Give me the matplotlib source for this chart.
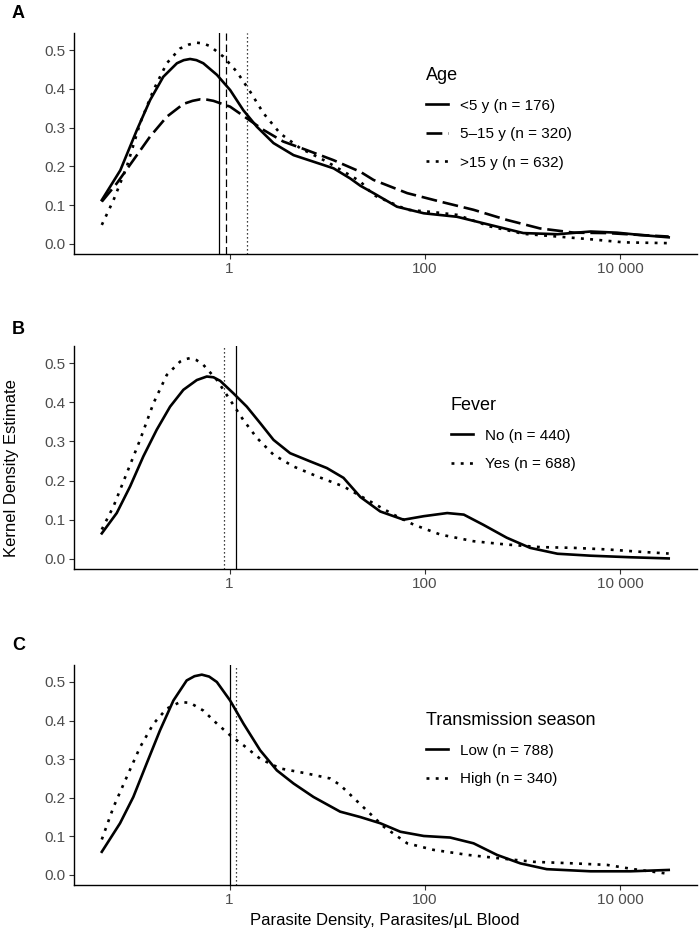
import numpy as np
import matplotlib
matplotlib.use("Agg")
import matplotlib.pyplot as plt

plt.rcParams['font.family'] = ['Liberation Sans', 'DejaVu Sans']

# log10(parasite density) and kernel density estimates
age_lt5_x = [-1.31, -1.12, -0.95, -0.815, -0.68, -0.54, -0.47, -0.405, -0.34, -0.27, -0.13, 0.005, 0.14, 0.28,
             0.45, 0.655, 0.86, 1.065, 1.235, 1.34, 1.475, 1.715, 1.99, 2.33, 2.67, 3.01, 3.36, 3.70, 3.97,
             4.21, 4.50]
age_lt5_y = [0.113, 0.19, 0.294, 0.371, 0.431, 0.466, 0.474, 0.477, 0.474, 0.466, 0.436, 0.397, 0.345, 0.302,
             0.26, 0.229, 0.212, 0.195, 0.169, 0.150, 0.131, 0.096, 0.079, 0.070, 0.049, 0.028, 0.025, 0.032,
             0.029, 0.023, 0.017]

age_5to15_x = [-1.31, -1.157, -0.987, -0.815, -0.644, -0.474, -0.38, -0.30, -0.23, -0.166, 0.005, 0.176, 0.347,
               0.55, 0.79, 1.065, 1.34, 1.475, 1.82, 2.16, 2.50, 2.84, 3.18, 3.53, 3.87, 4.21, 4.50]
age_5to15_y = [0.109, 0.156, 0.216, 0.277, 0.328, 0.361, 0.369, 0.373, 0.372, 0.369, 0.354, 0.324, 0.294,
               0.264, 0.242, 0.216, 0.186, 0.165, 0.131, 0.109, 0.088, 0.062, 0.040, 0.029, 0.028, 0.023, 0.019]

age_gt15_x = [-1.31, -1.19, -1.054, -0.918, -0.78, -0.644, -0.508, -0.42, -0.336, -0.27, -0.2, -0.064, 0.074,
              0.21, 0.347, 0.518, 0.723, 0.997, 1.2, 1.34, 1.475, 1.82, 2.09, 2.33, 2.67, 3.01, 3.36, 3.70,
              4.04, 4.50]
age_gt15_y = [0.049, 0.113, 0.199, 0.311, 0.397, 0.466, 0.504, 0.514, 0.519, 0.517, 0.510, 0.483, 0.444,
              0.393, 0.337, 0.285, 0.247, 0.212, 0.182, 0.161, 0.126, 0.088, 0.082, 0.075, 0.045, 0.026, 0.019,
              0.012, 0.004, 0.002]

fever_no_x = [-1.31, -1.157, -1.02, -0.884, -0.747, -0.61, -0.474, -0.336, -0.234, -0.165, -0.097, 0.039, 0.176,
              0.313, 0.45, 0.62, 0.826, 0.997, 1.167, 1.34, 1.544, 1.783, 1.99, 2.23, 2.40, 2.60, 2.84, 3.08,
              3.36, 3.70, 4.11, 4.50]
fever_no_y = [0.065, 0.117, 0.185, 0.262, 0.330, 0.389, 0.432, 0.457, 0.466, 0.464, 0.455, 0.423, 0.389,
              0.347, 0.304, 0.270, 0.249, 0.232, 0.207, 0.158, 0.121, 0.100, 0.109, 0.117, 0.113, 0.087, 0.054,
              0.028, 0.013, 0.008, 0.004, 0.001]

fever_yes_x = [-1.31, -1.19, -1.054, -0.918, -0.78, -0.644, -0.508, -0.46, -0.405, -0.34, -0.27, -0.13, 0.005,
               0.14, 0.28, 0.45, 0.655, 0.894, 1.167, 1.41, 1.68, 1.885, 2.16, 2.50, 2.84, 3.18, 3.53, 3.87,
               4.21, 4.50]
fever_yes_y = [0.075, 0.134, 0.219, 0.304, 0.398, 0.470, 0.504, 0.510, 0.513, 0.508, 0.496, 0.457, 0.406,
               0.355, 0.309, 0.266, 0.236, 0.211, 0.185, 0.151, 0.113, 0.0875, 0.062, 0.045, 0.0365, 0.030,
               0.028, 0.024, 0.018, 0.0135]

season_low_x = [-1.31, -1.123, -0.987, -0.85, -0.713, -0.576, -0.44, -0.36, -0.285, -0.21, -0.131, 0.005,
                0.142, 0.313, 0.484, 0.655, 0.86, 1.133, 1.34, 1.544, 1.75, 1.99, 2.26, 2.50, 2.74, 2.98, 3.25,
                3.70, 4.11, 4.50]
season_low_y = [0.060, 0.134, 0.202, 0.289, 0.375, 0.452, 0.504, 0.515, 0.519, 0.514, 0.50, 0.452, 0.392,
                0.323, 0.271, 0.237, 0.202, 0.164, 0.150, 0.134, 0.112, 0.101, 0.097, 0.082, 0.052, 0.030,
                0.015, 0.0095, 0.0095, 0.013]

season_high_x = [-1.31, -1.19, -1.054, -0.918, -0.78, -0.644, -0.508, -0.405, -0.27, -0.13, 0.005, 0.142,
                 0.313, 0.518, 0.79, 1.03, 1.133, 1.34, 1.58, 1.82, 2.09, 2.44, 2.77, 3.12, 3.53, 3.87, 4.14,
                 4.50]
season_high_y = [0.092, 0.176, 0.254, 0.331, 0.392, 0.431, 0.448, 0.446, 0.426, 0.392, 0.362, 0.336, 0.301,
                 0.276, 0.263, 0.250, 0.233, 0.183, 0.125, 0.082, 0.065, 0.052, 0.043, 0.034, 0.030, 0.026,
                 0.015, 0.003]

# group medians (parasites/uL) shown as vertical lines
age_medians = [0.785, 0.914, 1.50]
fever_medians = [1.166, 0.885]
season_medians = [1.01, 1.16]

age_labels = ['<5 y (n = 176)', '5\u201315 y (n = 320)', '>15 y (n = 632)']
fever_labels = ['No (n = 440)', 'Yes (n = 688)']
season_labels = ['Low (n = 788)', 'High (n = 340)']

x_ticks = [1, 100, 10000]
x_ticklabels = ['1', '100', '10 000']
y_ticks = [0.0, 0.1, 0.2, 0.3, 0.4, 0.5]

SOLID = '-'
DASHED = (0, (6, 2.2))
DOTTED = (0, (1.1, 2.4))
VDASH = (0, (6, 3))
VDOT = (0, (1, 2.2))

W, H = 700, 933
fig = plt.figure(figsize=(W / 100, H / 100), dpi=100)


def make_axes(top_px, bottom_px):
    left, right = 73.5, 697
    return fig.add_axes([left / W, 1 - bottom_px / H, (right - left) / W, (bottom_px - top_px) / H])


def style(ax):
    ax.set_xscale('log')
    ax.set_xlim(10 ** -1.6, 10 ** 4.79)
    ax.set_ylim(-0.026, 0.544)
    ax.set_xticks(x_ticks)
    ax.set_xticklabels(x_ticklabels)
    ax.xaxis.set_minor_locator(matplotlib.ticker.NullLocator())
    ax.set_yticks(y_ticks)
    ax.set_yticklabels(['%.1f' % v for v in y_ticks])
    for s in ['top', 'right']:
        ax.spines[s].set_visible(False)
    for s in ['left', 'bottom']:
        ax.spines[s].set_linewidth(1.0)
        ax.spines[s].set_color('black')
    ax.tick_params(length=3.5, width=0.8, color='#333333', labelcolor='#4d4d4d', labelsize=11, pad=2)


def add_legend(ax, handles, labels, title, x_px, y_px):
    leg = ax.legend(handles, labels, title=title, loc='upper left',
                    bbox_to_anchor=(x_px / W, 1 - y_px / H), bbox_transform=fig.transFigure,
                    frameon=False, fontsize=11, title_fontsize=13, alignment='left',
                    handlelength=1.45, handletextpad=0.75, labelspacing=0.95, borderpad=0, borderaxespad=0)
    return leg


lw = 1.9

# A: age
axA = make_axes(33, 254)
hA = []
for xs, ys, ls in [(age_lt5_x, age_lt5_y, SOLID), (age_5to15_x, age_5to15_y, DASHED),
                   (age_gt15_x, age_gt15_y, DOTTED)]:
    l, = axA.plot(10 ** np.array(xs), ys, color='black', lw=lw, linestyle=ls)
    hA.append(l)
for m, ls in zip(age_medians, [SOLID, VDASH, VDOT]):
    axA.axvline(m, color='black', lw=0.9, linestyle=ls)
style(axA)
add_legend(axA, hA, age_labels, 'Age', 426, 67)

# B: fever
axB = make_axes(346, 569)
hB = []
for xs, ys, ls in [(fever_no_x, fever_no_y, SOLID), (fever_yes_x, fever_yes_y, DOTTED)]:
    l, = axB.plot(10 ** np.array(xs), ys, color='black', lw=lw, linestyle=ls)
    hB.append(l)
for m, ls in zip(fever_medians, [SOLID, VDOT]):
    axB.axvline(m, color='black', lw=0.9, linestyle=ls)
style(axB)
add_legend(axB, hB, fever_labels, 'Fever', 451, 397)

# C: transmission season
axC = make_axes(665, 885)
hC = []
for xs, ys, ls in [(season_low_x, season_low_y, SOLID), (season_high_x, season_high_y, DOTTED)]:
    l, = axC.plot(10 ** np.array(xs), ys, color='black', lw=lw, linestyle=ls)
    hC.append(l)
for m, ls in zip(season_medians, [SOLID, VDOT]):
    axC.axvline(m, color='black', lw=0.9, linestyle=ls)
style(axC)
add_legend(axC, hC, season_labels, 'Transmission season', 426, 712)

for lab, y in [('A', 13), ('B', 329), ('C', 645)]:
    fig.text(12 / W, 1 - y / H, lab, fontsize=13, fontweight='bold', ha='left', va='center')

fig.text(12 / W, 1 - 468 / H, 'Kernel Density Estimate', rotation=90, fontsize=12, ha='center', va='center')
fig.text(385 / W, 1 - 921 / H, 'Parasite Density, Parasites/\u03bcL Blood', fontsize=12, ha='center', va='center')

fig.savefig('out.png', dpi=100)
